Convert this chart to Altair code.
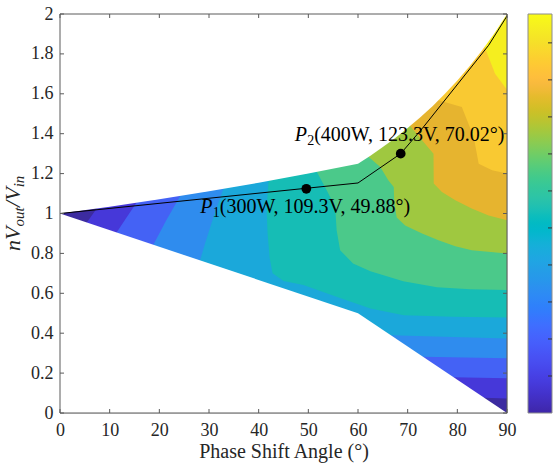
import altair as alt
import pandas as pd

# ---------------- data ----------------
X_TICKS = [0, 10, 20, 30, 40, 50, 60, 70, 80, 90]
Y_TICKS = [0, 0.2, 0.4, 0.6, 0.8, 1, 1.2, 1.4, 1.6, 1.8, 2]

# outline of the operating region
UPPER_X = [0, 10, 20, 30, 40, 50, 60, 62.5, 65, 67.5, 70, 72.5, 75, 77.5, 80, 82.5, 85, 87.5, 90]
UPPER_Y = [1, 1.034, 1.071, 1.111, 1.154, 1.2, 1.25, 1.29, 1.333, 1.379, 1.429, 1.481, 1.538, 1.6, 1.667, 1.739, 1.818, 1.905, 2.0]
LOWER_X = [0, 60, 90]
LOWER_Y = [1, 0.5, 0]

# filled contour levels: for each x, level k covers y from LO to HI (clipped to the region)
C0_X = [0, 90]
C0_LO = [0, 0]
C0_HI = [2, 2]
C1_X = [5.4, 7.4, 7.45, 85.4, 90]
C1_LO = [0, 0, 0.077, 0.077, 0.073]
C1_HI = [0.955, 1.025, 2, 2, 2]
C2_X = [11.4, 13.4, 15.4, 15.45, 79.3, 90]
C2_LO = [0, 0, 0, 0.179, 0.179, 0.174]
C2_HI = [0.905, 0.98, 1.054, 2, 2, 2]
C3_X = [18.8, 21.4, 24.2, 24.25, 73.1, 90]
C3_LO = [0, 0, 0, 0.282, 0.282, 0.274]
C3_HI = [0.843, 0.966, 1.088, 2, 2, 2]
C4_X = [28.2, 29.2, 30.9, 32.9, 32.95, 66.6, 90]
C4_LO = [0, 0, 0, 0, 0.39, 0.39, 0.374]
C4_HI = [0.765, 0.85, 0.983, 1.124, 2, 2, 2]
C5_X = [41.6, 41.8, 42, 42.2, 42.8, 45, 49, 55.8, 62.5, 69.2, 79.2, 90]
C5_LO = [1.02, 0.90, 0.84, 0.78, 0.70, 0.662, 0.641, 0.582, 0.524, 0.49, 0.483, 0.479]
C5_HI = [1.02, 1.10, 1.163, 2, 2, 2, 2, 2, 2, 2, 2, 2]
C6_X = [51.7, 53.7, 55.4, 55.7, 56.4, 59, 62.5, 69.1, 75.9, 82.6, 90]
C6_LO = [1.209, 1.117, 1.033, 0.916, 0.816, 0.75, 0.71, 0.66, 0.63, 0.62, 0.616]
C6_HI = [2] * 11
C7_X = [62.1, 64.5, 66.1, 67.2, 67.3, 67.8, 69.5, 72.9, 76.2, 79.6, 82.9, 90]
C7_LO = [1.284, 1.233, 1.167, 1.133, 1.05, 0.98, 0.94, 0.90, 0.866, 0.836, 0.816, 0.80]
C7_HI = [2] * 12
C8_X = [70.5, 72.9, 75.2, 75.25, 76.9, 79.6, 82.9, 86.3, 90]
C8_LO = [1.439, 1.367, 1.30, 1.15, 1.108, 1.067, 1.025, 0.99, 0.966]
C8_HI = [2] * 9
C9_X = [76.2, 80.9, 83.3, 84.3, 87, 90]
C9_LO = [1.568, 1.534, 1.384, 1.25, 1.217, 1.20]
C9_HI = [2] * 6
C10_X = [85.5, 87.6, 90]
C10_LO = [1.835, 1.70, 1.62]
C10_HI = [2] * 3

LEVELS = [(C0_X, C0_LO, C0_HI), (C1_X, C1_LO, C1_HI), (C2_X, C2_LO, C2_HI), (C3_X, C3_LO, C3_HI),
          (C4_X, C4_LO, C4_HI), (C5_X, C5_LO, C5_HI), (C6_X, C6_LO, C6_HI), (C7_X, C7_LO, C7_HI),
          (C8_X, C8_LO, C8_HI), (C9_X, C9_LO, C9_HI), (C10_X, C10_LO, C10_HI)]

BAND_COLORS = ["#3c2ba0", "#4638d9", "#4462f5", "#2f8cee", "#1ba8da", "#16bdb5",
               "#4bc98a", "#9fc840", "#e6b42f", "#f9c932", "#f5ee1f"]

# operating trajectory and marked points
LINE_X = [0, 60, 68.6, 72.9, 79.6, 86.3, 90]
LINE_Y = [1, 1.153, 1.30, 1.425, 1.634, 1.843, 1.99]
PT_X = [49.6, 68.6]
PT_Y = [1.124, 1.30]
PT_SUB = ["1", "2"]
PT_TEXT = ["(300W, 109.3V, 49.88°)", "(400W, 123.3V, 70.02°)"]
PT_DX = [-106, -106]
PT_DY = [24, -13]

# colorbar
CB_VMAX = 10.78
CB_TICKS = [1, 2, 3, 4, 5, 6, 7, 8, 9, 10]
PARULA = [
    (0.2422, 0.1504, 0.6603), (0.2504, 0.1650, 0.7076), (0.2578, 0.1818, 0.7511), (0.2647, 0.1978, 0.7952),
    (0.2706, 0.2147, 0.8364), (0.2751, 0.2342, 0.8710), (0.2783, 0.2559, 0.8991), (0.2803, 0.2782, 0.9221),
    (0.2813, 0.3006, 0.9414), (0.2810, 0.3228, 0.9579), (0.2795, 0.3447, 0.9717), (0.2760, 0.3667, 0.9829),
    (0.2699, 0.3892, 0.9906), (0.2602, 0.4123, 0.9952), (0.2440, 0.4358, 0.9988), (0.2206, 0.4603, 0.9973),
    (0.1963, 0.4847, 0.9892), (0.1834, 0.5074, 0.9798), (0.1786, 0.5289, 0.9682), (0.1764, 0.5499, 0.9520),
    (0.1687, 0.5703, 0.9359), (0.1540, 0.5902, 0.9218), (0.1460, 0.6091, 0.9079), (0.1380, 0.6276, 0.8973),
    (0.1248, 0.6459, 0.8883), (0.1113, 0.6635, 0.8763), (0.0952, 0.6798, 0.8598), (0.0689, 0.6948, 0.8394),
    (0.0297, 0.7082, 0.8163), (0.0036, 0.7203, 0.7917), (0.0067, 0.7312, 0.7660), (0.0433, 0.7411, 0.7394),
    (0.0964, 0.7500, 0.7120), (0.1408, 0.7584, 0.6842), (0.1717, 0.7670, 0.6554), (0.1938, 0.7758, 0.6251),
    (0.2161, 0.7843, 0.5923), (0.2470, 0.7918, 0.5567), (0.2906, 0.7973, 0.5188), (0.3406, 0.8008, 0.4789),
    (0.3909, 0.8029, 0.4354), (0.4456, 0.8024, 0.3909), (0.5044, 0.7993, 0.3480), (0.5616, 0.7942, 0.3045),
    (0.6174, 0.7876, 0.2612), (0.6720, 0.7793, 0.2227), (0.7242, 0.7698, 0.1910), (0.7738, 0.7598, 0.1646),
    (0.8203, 0.7498, 0.1535), (0.8634, 0.7406, 0.1596), (0.9035, 0.7330, 0.1774), (0.9393, 0.7288, 0.2100),
    (0.9728, 0.7298, 0.2394), (0.9956, 0.7434, 0.2371), (0.9970, 0.7659, 0.2199), (0.9952, 0.7893, 0.2028),
    (0.9892, 0.8136, 0.1885), (0.9786, 0.8386, 0.1766), (0.9676, 0.8639, 0.1643), (0.9610, 0.8890, 0.1537),
    (0.9597, 0.9135, 0.1423), (0.9628, 0.9373, 0.1265), (0.9691, 0.9606, 0.1064), (0.9769, 0.9839, 0.0805),
]

# ---------------- styling ----------------
W, H = 447, 399
SERIF = "Liberation Serif"
AXC = "#5a5a5a"
TXT = "#262626"

xs = alt.Scale(domain=[0, 90], nice=False, zero=False)
ys = alt.Scale(domain=[0, 2], nice=False, zero=False)
AX = alt.Axis(values=X_TICKS, title="Phase Shift Angle (°)", ticks=False, tickSize=0, grid=False,
              labelPadding=22, labelBaseline="alphabetic", labelFont=SERIF, labelFontSize=18,
              labelColor=TXT, titleFont=SERIF, titleFontSize=20, titleFontWeight="normal",
              titleColor=TXT, titleBaseline="alphabetic", titleY=44, domain=False,
              labelFlush=False)
AY = alt.Axis(values=Y_TICKS, title=None, format="~g", ticks=False, tickSize=0, grid=False,
              labelPadding=7, labelFont=SERIF, labelFontSize=18, labelColor=TXT,
              domain=False, labelFlush=False)


def X(f):
    return alt.X(f, type="quantitative", scale=xs, axis=AX)


def Y(f):
    return alt.Y(f, type="quantitative", scale=ys, axis=AY)


layers = []

# filled contour levels, painted from the lowest level upwards
for k, (cx, clo, chi) in enumerate(LEVELS):
    df = pd.DataFrame({"px": cx, "lo": clo, "hi": chi})
    layers.append(
        alt.Chart(df).mark_area(color=BAND_COLORS[k], strokeWidth=0, interpolate="linear")
        .encode(x=X("px"), y=Y("lo"), y2=alt.Y2("hi"))
    )

# white masks outside the operating region
up_df = pd.DataFrame({"px": UPPER_X, "lo": UPPER_Y, "hi": [2.0] * len(UPPER_X)})
layers.append(alt.Chart(up_df).mark_area(color="white", strokeWidth=0)
              .encode(x=X("px"), y=Y("lo"), y2=alt.Y2("hi")))
low_df = pd.DataFrame({"px": LOWER_X, "lo": [0.0] * len(LOWER_X), "hi": LOWER_Y})
layers.append(alt.Chart(low_df).mark_area(color="white", strokeWidth=0)
              .encode(x=X("px"), y=Y("lo"), y2=alt.Y2("hi")))

# trajectory line
line_df = pd.DataFrame({"px": LINE_X, "py": LINE_Y})
layers.append(alt.Chart(line_df).mark_line(color="black", strokeWidth=1)
              .encode(x=X("px"), y=Y("py")))

# points
pt_df = pd.DataFrame({"px": PT_X, "py": PT_Y})
layers.append(alt.Chart(pt_df).mark_circle(color="black", size=95, opacity=1)
              .encode(x=X("px"), y=Y("py")))

# point labels: italic P, subscript, rest
for j in range(len(PT_X)):
    one = pd.DataFrame({"px": [PT_X[j]], "py": [PT_Y[j]]})
    enc = dict(x=X("px"), y=Y("py"))
    layers.append(alt.Chart(one).mark_text(text="P", font=SERIF, fontStyle="italic", fontSize=20,
                                           align="left", baseline="alphabetic", color="black",
                                           dx=PT_DX[j], dy=PT_DY[j]).encode(**enc))
    layers.append(alt.Chart(one).mark_text(text=PT_SUB[j], font=SERIF, fontSize=14,
                                           align="left", baseline="alphabetic", color="black",
                                           dx=PT_DX[j] + 12.5, dy=PT_DY[j] + 4).encode(**enc))
    layers.append(alt.Chart(one).mark_text(text=PT_TEXT[j], font=SERIF, fontSize=20,
                                           align="left", baseline="alphabetic", color="black",
                                           dx=PT_DX[j] + 19.5, dy=PT_DY[j]).encode(**enc))

# frame and inward ticks on all four sides
layers.append(alt.Chart(pd.DataFrame({"a": [0]})).mark_rect(fillOpacity=0, stroke=AXC, strokeWidth=1)
              .encode(x=alt.value(0), x2=alt.value(W), y=alt.value(0), y2=alt.value(H)))
xt = pd.DataFrame({"t": X_TICKS})
yt = pd.DataFrame({"t": Y_TICKS})
layers.append(alt.Chart(xt).mark_rule(color=AXC, strokeWidth=1)
              .encode(x=X("t"), y=alt.value(H), y2=alt.value(H - 4)))
layers.append(alt.Chart(xt).mark_rule(color=AXC, strokeWidth=1)
              .encode(x=X("t"), y=alt.value(0), y2=alt.value(4)))
layers.append(alt.Chart(yt).mark_rule(color=AXC, strokeWidth=1)
              .encode(y=Y("t"), x=alt.value(0), x2=alt.value(4)))
layers.append(alt.Chart(yt).mark_rule(color=AXC, strokeWidth=1)
              .encode(y=Y("t"), x=alt.value(W), x2=alt.value(W - 4)))

# colorbar (parula gradient)
n = len(PARULA)
stops = [alt.GradientStop(offset=i / (n - 1),
                          color="#%02x%02x%02x" % tuple(int(round(v * 255)) for v in PARULA[i]))
         for i in range(n)]
CB_L, CB_R = 468, 492
layers.append(alt.Chart(pd.DataFrame({"a": [0]}))
              .mark_rect(color=alt.LinearGradient(gradient="linear", stops=stops, x1=0, x2=0, y1=1, y2=0),
                         stroke="#8c8c8c", strokeWidth=1)
              .encode(x=alt.value(CB_L), x2=alt.value(CB_R), y=alt.value(0), y2=alt.value(H)))
cbt = pd.DataFrame({"t": CB_TICKS})
layers.append(alt.Chart(cbt).transform_calculate(yy=f"2*datum.t/{CB_VMAX}")
              .mark_rule(color="#333333", strokeWidth=1)
              .encode(y=Y("yy"), x=alt.value(CB_R - 4), x2=alt.value(CB_R)))

# y-axis title  nV_out / V_in  (rotated, built from pieces)
YT_X, YT_Y = -40, 237
parts = [("nV", 22, 0, 0), ("out", 15, 24.4, 4), ("/V", 22, 44.1, 0), ("in", 15, 63.7, 4)]
for txt, fs, dx, dy in parts:
    layers.append(alt.Chart(pd.DataFrame({"a": [0]}))
                  .mark_text(text=txt, font=SERIF, fontStyle="italic", fontSize=fs, angle=270,
                             align="left", baseline="alphabetic", color=TXT, dx=dx, dy=dy)
                  .encode(x=alt.value(YT_X), y=alt.value(YT_Y)))

chart = (
    alt.layer(*layers)
    .properties(width=W, height=H, autosize=alt.AutoSizeParams(type="none"),
                padding={"left": 60, "top": 14, "right": 49, "bottom": 56})
    .configure_view(stroke=None)
    .configure(background="white")
)

chart.save("out.html", embed_options={"renderer": "svg", "actions": False})
